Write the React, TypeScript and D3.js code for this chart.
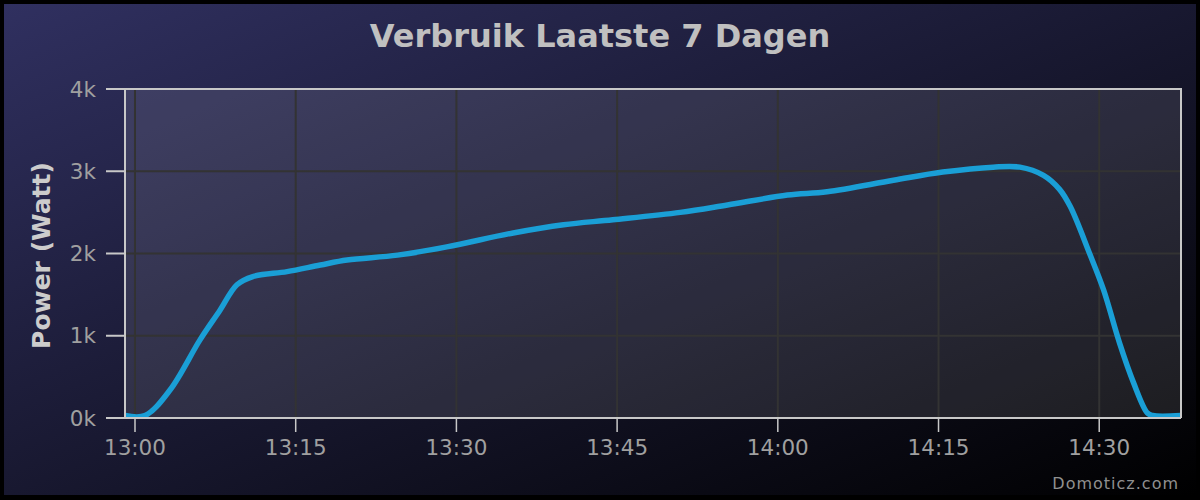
import React from "react";
import * as d3 from "d3";

const times = [
  "12:59:04", "13:00:56", "13:03:16", "13:06:04", "13:07:56", "13:09:31", "13:11:00",
  "13:14:12", "13:17:18", "13:19:48", "13:24:30", "13:29:06", "13:35:18", "13:40:00",
  "13:44:36", "13:50:54", "13:55:18", "14:00:54", "14:04:36", "14:10:48", "14:15:24",
  "14:20:06", "14:22:36", "14:24:48", "14:26:18", "14:27:18", "14:29:06", "14:30:24",
  "14:31:54", "14:33:12", "14:34:30", "14:35:00", "14:37:38",
];
const power = [
  30, 30, 340, 950, 1310, 1620, 1720,
  1780, 1860, 1920, 1980, 2080, 2250, 2350,
  2410, 2500, 2590, 2710, 2750, 2890, 2990,
  3050, 3050, 2950, 2780, 2570, 2000, 1560,
  910, 430, 60, 30, 30,
];
const yTicks = [0, 1000, 2000, 3000, 4000];
const xDomain = ["12:59:04", "14:37:38"];

const title = "Verbruik Laatste 7 Dagen";
const yTitle = "Power (Watt)";
const credits = "Domoticz.com";

const parse = (s: string) => {
  const [h, m, sec] = s.split(":").map(Number);
  return new Date(2024, 0, 1, h, m, sec);
};

export default function App() {
  const W = 1200, H = 500;
  const left = 125, right = 1181, top = 89, bottom = 418;
  const x = d3.scaleTime().domain(xDomain.map(parse)).range([left, right]);
  const y = d3.scaleLinear().domain([0, 4000]).range([bottom, top]);
  const data = times.map((t, i) => ({ t: parse(t), v: power[i] }));
  const line = d3.line<{ t: Date; v: number }>()
    .x((d) => x(d.t))
    .y((d) => y(d.v))
    .curve(d3.curveCatmullRom.alpha(0.5));
  const xTicks = x.ticks(d3.timeMinute.every(15)!);
  const fmt = d3.timeFormat("%H:%M");
  const font = "'DejaVu Sans', sans-serif";

  return (
    <svg width={W} height={H} style={{ position: "absolute", left: 0, top: 0 }} fontFamily={font}>
      <defs>
        <linearGradient id="bg" x1="0" y1="0" x2="1" y2="1">
          <stop offset="0" stopColor="rgb(48,48,96)" />
          <stop offset="1" stopColor="rgb(0,0,0)" />
        </linearGradient>
        <clipPath id="clip">
          <rect x={left} y={top} width={right - left} height={bottom - top - 1} />
        </clipPath>
      </defs>
      <rect x={0} y={0} width={W} height={H} fill="#000" />
      <rect x={4} y={4} width={W - 8} height={H - 9} fill="url(#bg)" />
      <rect x={left} y={top} width={right - left} height={bottom - top} fill="rgba(255,255,255,0.1)" />
      {yTicks.filter((t) => t > 0 && t < 4000).map((t) => (
        <line key={"gy" + t} x1={left} x2={right} y1={y(t)} y2={y(t)} stroke="#333" strokeWidth={2} />
      ))}
      {xTicks.map((t) => (
        <line key={"gx" + +t} x1={x(t)} x2={x(t)} y1={top} y2={bottom} stroke="#333" strokeWidth={2} />
      ))}
      <path d={line(data) || ""} fill="none" stroke="#1a9fd6" strokeWidth={5.5} strokeLinejoin="round" strokeLinecap="round" clipPath="url(#clip)" />
      <path d={`M${left},${bottom}V${top}H${right}V${bottom}`} fill="none" stroke="#c8c8c8" strokeWidth={2} />
      <line x1={left} x2={right} y1={bottom} y2={bottom} stroke="#c8c8c8" strokeWidth={2} />
      {yTicks.map((t) => (
        <g key={"yt" + t}>
          <line x1={106} x2={left} y1={y(t)} y2={y(t)} stroke="#c8c8c8" strokeWidth={2} />
          <text x={96} y={y(t)} dy="0.36em" textAnchor="end" fill="#a0a0a0" fontSize={21.5}>
            {t / 1000 + "k"}
          </text>
        </g>
      ))}
      {xTicks.map((t) => (
        <g key={"xt" + +t}>
          <line x1={x(t)} x2={x(t)} y1={bottom} y2={432} stroke="#c8c8c8" strokeWidth={1.5} />
          <text x={x(t)} y={455} textAnchor="middle" fill="#a0a0a0" fontSize={21.5}>
            {fmt(t)}
          </text>
        </g>
      ))}
      <text x={600} y={47} textAnchor="middle" fill="#c0c0c0" fontSize={32} fontWeight="bold">
        {title}
      </text>
      <text transform={`translate(50,${(top + bottom) / 2 + 2}) rotate(-90)`} textAnchor="middle" fill="#cccccc" fontSize={25} fontWeight="bold">
        {yTitle}
      </text>
      <text x={1179} y={489} textAnchor="end" fill="#909090" fontSize={16} letterSpacing={1}>
        {credits}
      </text>
    </svg>
  );
}
